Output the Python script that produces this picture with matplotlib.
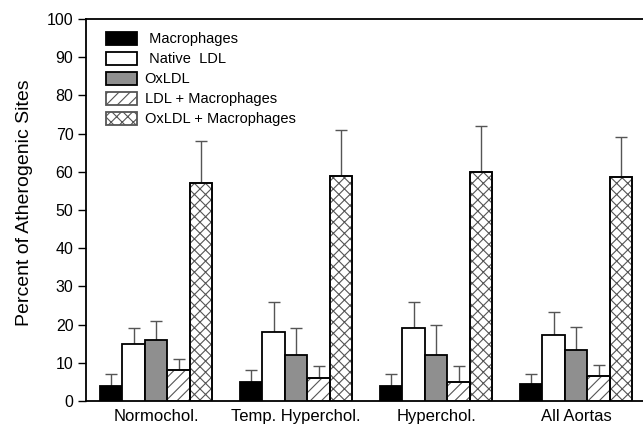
import matplotlib
matplotlib.use("Agg")
import matplotlib.pyplot as plt
import numpy as np

plt.rcParams['font.family'] = ['Liberation Sans', 'DejaVu Sans']
plt.rcParams['hatch.linewidth'] = 0.8

groups = ["Normochol.", "Temp. Hyperchol.", "Hyperchol.", "All Aortas"]
series = ["Macrophages", "Native  LDL", "OxLDL", "LDL + Macrophages", "OxLDL + Macrophages"]
means = {
    "Macrophages":         [4.0, 5.0, 4.0, 4.4],
    "Native  LDL":         [15.0, 18.0, 19.0, 17.4],
    "OxLDL":               [16.0, 12.0, 12.0, 13.4],
    "LDL + Macrophages":   [8.0, 6.0, 5.0, 6.5],
    "OxLDL + Macrophages": [57.0, 59.0, 60.0, 58.7],
}
upper = {
    "Macrophages":         [7.0, 8.0, 7.0, 7.0],
    "Native  LDL":         [19.0, 26.0, 26.0, 23.4],
    "OxLDL":               [21.0, 19.0, 20.0, 19.5],
    "LDL + Macrophages":   [11.0, 9.1, 9.1, 9.5],
    "OxLDL + Macrophages": [68.0, 71.0, 72.0, 69.0],
}
labels_legend = [" Macrophages", " Native  LDL", "OxLDL", "LDL + Macrophages", "OxLDL + Macrophages"]
yticks = [0, 10, 20, 30, 40, 50, 60, 70, 80, 90, 100]

styles = [
    dict(color="black", hatch=None),
    dict(color="white", hatch=None),
    dict(color="#8f8f8f", hatch=None),
    dict(color="white", hatch="///"),
    dict(color="white", hatch="xxx"),
]

fig = plt.figure(figsize=(6.43, 4.25), dpi=100)
ax = fig.add_axes([86/643, 1-401/425, 1-86/643, (401-19)/425])

x = np.arange(len(groups))
w = 22.5/140
handles = []
for i, s in enumerate(series):
    pos = x + (i-2)*w
    m = np.array(means[s]); u = np.array(upper[s])
    st = styles[i]
    b = ax.bar(pos, m, width=w, color=st["color"], edgecolor="black", linewidth=1.3,
               hatch=st["hatch"], zorder=3, label=labels_legend[i])
    if st["hatch"]:
        for p in b:
            p.set_edgecolor("#555555")
        ax.bar(pos, m, width=w, color="none", edgecolor="black", linewidth=1.3, zorder=4)
    ax.errorbar(pos, m, yerr=[np.zeros_like(m), u-m], fmt="none", ecolor="#555555",
                elinewidth=1.0, capsize=4.5, capthick=1.0, zorder=2)
    handles.append(b)

ax.set_xlim(-0.5, (643-156.25)/140)
ax.set_ylim(0, 100)
ax.set_yticks(yticks)
ax.set_xticks(x)
ax.set_xticklabels(groups, fontsize=12)
ax.tick_params(axis='x', length=0, pad=6)
ax.tick_params(axis='y', direction='out', length=6, width=1, labelsize=11.5, pad=3)
ax.spines['right'].set_visible(False)
for sp in ['left', 'bottom', 'top']:
    ax.spines[sp].set_linewidth(1.3)
ax.set_ylabel("Percent of Atherogenic Sites", fontsize=14)
ax.yaxis.set_label_coords(-(86-33)/557, 0.5 + (210-203)/382)

ax.legend(handles=handles, loc='upper left', bbox_to_anchor=(0.02, 0.99), frameon=False,
          fontsize=10.5, handlelength=2.15, handleheight=1.0, labelspacing=0.38,
          handletextpad=0.5, borderaxespad=0.2)

fig.savefig("out.png", dpi=100)
